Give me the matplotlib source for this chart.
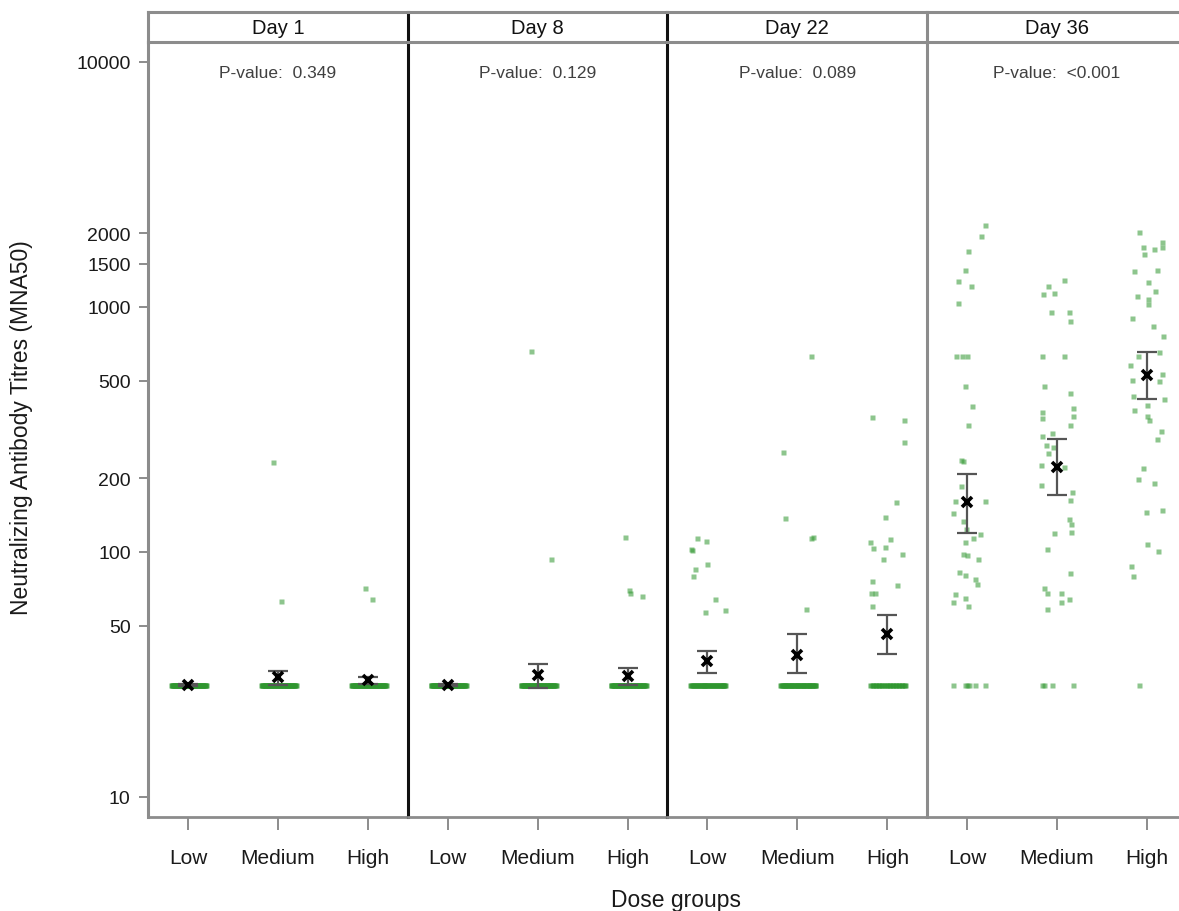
import numpy as np
import matplotlib
matplotlib.use("Agg")
import matplotlib.pyplot as plt
from matplotlib.ticker import FixedLocator, FixedFormatter, NullLocator

plt.rcParams["font.family"] = ["Liberation Sans", "DejaVu Sans"]

DAYS = ["Day 1", "Day 8", "Day 22", "Day 36"]
DOSES = ["Low", "Medium", "High"]
PVALUES = ["0.349", "0.129", "0.089", "<0.001"]
YTICKS = [10, 50, 100, 200, 500, 1000, 1500, 2000, 10000]

LLOQ = 28.5
# subjects sitting at the lower limit (drawn as a jittered band), per day x dose
N_AT_LLOQ = [[50, 48, 49], [50, 47, 46], [38, 42, 24], [0, 0, 0]]

# geometric mean titre and 95% CI, per day x dose
GMT = [[28.5, 30.8, 29.9], [28.5, 31.4, 31.2], [35.8, 38.0, 46.2], [160, 222, 527]]
CI_LO = [[28.3, 28.7, 28.9], [28.3, 27.8, 28.7], [32.0, 32.0, 38.4], [120, 171, 421]]
CI_HI = [[28.8, 32.6, 31.0], [28.8, 34.9, 33.5], [39.4, 46.2, 55.5], [209, 289, 653]]

# individual titres not in the LLOQ band, with their jitter
d1_medium = [233, 63]
d1_medium_dx = [-0.06, 0.03]
d1_high = [71, 64]
d1_high_dx = [-0.03, 0.04]

d8_medium = [660, 93.5]
d8_medium_dx = [-0.07, 0.15]
d8_high = [115, 70, 68, 66]
d8_high_dx = [-0.03, 0.01, 0.03, 0.16]

d22_low = [114, 111, 103, 102, 85, 89, 80, 64, 57, 58]
d22_low_dx = [-0.11, -0.02, -0.18, -0.17, -0.14, 0.0, -0.16, 0.09, -0.03, 0.20]
d22_medium = [632, 256, 137, 114, 115, 58.5]
d22_medium_dx = [0.15, -0.16, -0.14, 0.15, 0.17, 0.10]
d22_high = [355, 344, 280, 160, 139, 113, 109.5, 104, 105, 93.5, 98, 76, 68, 68, 73, 60]
d22_high_dx = [-0.17, 0.18, 0.19, 0.10, -0.03, 0.03, -0.19, -0.16, -0.03, -0.05,
               0.16, -0.17, -0.18, -0.14, 0.11, -0.17]

d36_low = [2162, 1945, 1687, 1419, 1273, 1222, 1038, 632, 632, 632, 474, 393, 330,
           238, 236, 186, 161, 144, 162, 134, 124, 114, 118, 110, 98, 97, 94, 83,
           80.5, 77.6, 74, 67.6, 64.6, 62.5, 60.4,
           28.5, 28.5, 28.5, 28.5, 28.5, 28.5]
d36_low_dx = [0.20, 0.15, 0.01, -0.02, -0.10, 0.04, -0.10, -0.12, -0.06, 0.0, -0.02,
              0.06, 0.01, -0.07, -0.05, -0.07, -0.13, -0.16, 0.20, -0.05, -0.01, 0.07,
              0.14, -0.02, -0.04, 0.0, 0.12, -0.09, -0.02, 0.09, 0.11, -0.13, -0.02,
              -0.16, 0.01,
              -0.16, -0.02, 0.0, 0.025, 0.09, 0.20]
d36_medium = [1292, 1213, 1129, 1140, 957, 951, 874, 632, 632, 476, 445, 387, 372,
              360, 353, 330, 305, 298, 273, 269, 253, 227, 222, 188, 175, 163, 136,
              130, 121, 119, 103, 81.7, 71, 68, 67.8, 64.4, 62.7, 58.3,
              28.5, 28.5, 28.5, 28.5]
d36_medium_dx = [0.08, -0.10, -0.16, -0.03, -0.07, 0.13, 0.14, -0.17, 0.08, -0.15,
                 0.14, 0.18, -0.17, 0.18, -0.17, 0.14, -0.06, -0.17, -0.12, -0.04,
                 -0.10, -0.18, 0.08, -0.18, 0.17, 0.14, 0.13, 0.16, 0.16, -0.03,
                 -0.11, 0.14, -0.15, -0.11, 0.04, 0.13, 0.04, -0.11,
                 -0.17, -0.14, -0.06, 0.18]
d36_high = [2018, 1751, 1726, 1837, 1751, 1644, 1403, 1416, 1268, 1112, 1078, 1024,
            1164, 899, 834, 759, 657, 632, 579, 533, 504, 499, 434, 399, 421, 380,
            360, 346, 311, 290, 221, 199, 192, 146, 149, 108, 101, 87.3, 79.4,
            28.5]
d36_high_dx = [-0.09, -0.04, 0.08, 0.17, 0.17, -0.03, -0.15, 0.11, 0.01, -0.11, 0.01,
               0.01, 0.09, -0.17, 0.07, 0.18, 0.13, -0.10, -0.19, 0.17, -0.17, 0.13,
               -0.16, 0.0, 0.19, -0.15, 0.0, 0.02, 0.15, 0.11, -0.05, -0.10, 0.08,
               -0.01, 0.17, 0.0, 0.12, -0.18, -0.16,
               -0.09]

POINTS = {
    (0, 1): (d1_medium, d1_medium_dx), (0, 2): (d1_high, d1_high_dx),
    (1, 1): (d8_medium, d8_medium_dx), (1, 2): (d8_high, d8_high_dx),
    (2, 0): (d22_low, d22_low_dx), (2, 1): (d22_medium, d22_medium_dx),
    (2, 2): (d22_high, d22_high_dx),
    (3, 0): (d36_low, d36_low_dx), (3, 1): (d36_medium, d36_medium_dx),
    (3, 2): (d36_high, d36_high_dx),
}

W, H = 1179, 912
fig = plt.figure(figsize=(W / 100, H / 100), dpi=100)


def fx(px):
    return px / W


def fy(py):
    return 1 - py / H


LEFT, PANEL_W = 148, 259.7
TOP, BOTTOM, HEAD_TOP = 43, 818, 13
GREEN = "#2f962f"
GRAY = "#8c8c8c"
sep_colors = [GRAY, "#111111", "#111111", "#8c8c8c"]

for i, day in enumerate(DAYS):
    x0 = LEFT + i * PANEL_W
    ax = fig.add_axes([fx(x0), fy(BOTTOM), fx(PANEL_W), (BOTTOM - TOP) / H])
    ax.set_yscale("log")
    ax.set_ylim(8.28, 12067)
    ax.set_xlim(-0.444, -0.444 + PANEL_W / 90)

    for j in range(3):
        n = N_AT_LLOQ[i][j]
        if n:
            ax.plot(j + np.linspace(-0.19, 0.20, n), [LLOQ] * n, "s", ms=3.6,
                    color=GREEN, alpha=0.75, mec="none", zorder=2)
        if (i, j) in POINTS:
            vals, dx = POINTS[(i, j)]
            ax.plot(j + np.array(dx), vals, "s", ms=3.6, color=GREEN,
                    alpha=0.55, mec="none", zorder=2)
        ax.errorbar(j, GMT[i][j],
                    yerr=[[GMT[i][j] - CI_LO[i][j]], [CI_HI[i][j] - GMT[i][j]]],
                    fmt="none", ecolor="#555555", elinewidth=1.6, capsize=7.5,
                    capthick=1.6, zorder=3)
        ax.plot(j, GMT[i][j], "x", ms=6.5, mew=2.6, color="black", zorder=4)

    ax.text(0.5, 0.961, f"P-value:  {PVALUES[i]}", transform=ax.transAxes,
            ha="center", va="center", fontsize=12.5, color="#404040")

    ax.set_xticks(range(3))
    ax.set_xticklabels(DOSES, fontsize=15, color="#1a1a1a")
    ax.tick_params(axis="x", direction="out", length=9.5, width=1.4,
                   color=GRAY, pad=13)
    ax.yaxis.set_minor_locator(NullLocator())
    if i == 0:
        ax.yaxis.set_major_locator(FixedLocator(YTICKS))
        ax.yaxis.set_major_formatter(FixedFormatter([str(t) for t in YTICKS]))
        ax.tick_params(axis="y", direction="out", length=6.5, width=1.4,
                       color=GRAY, labelsize=14, labelcolor="#1a1a1a", pad=6)
    else:
        ax.set_yticks([])

    for s in ("top", "right"):
        ax.spines[s].set_visible(False)
    ax.spines["bottom"].set_color(GRAY)
    ax.spines["bottom"].set_linewidth(2)
    ax.spines["left"].set_color(sep_colors[i])
    ax.spines["left"].set_linewidth(2.2)

    # strip header with the day label
    hx = fig.add_axes([fx(x0), fy(TOP), fx(PANEL_W), (TOP - HEAD_TOP) / H])
    hx.set_xticks([])
    hx.set_yticks([])
    hx.spines["right"].set_visible(False)
    for s in ("top", "bottom"):
        hx.spines[s].set_color(GRAY)
        hx.spines[s].set_linewidth(2.2)
    hx.spines["left"].set_color(sep_colors[i])
    hx.spines["left"].set_linewidth(2.2)
    hx.text(0.5, 0.5, day, ha="center", va="center", fontsize=14.5,
            color="#111111", transform=hx.transAxes)

fig.text(fx(22), fy(428), "Neutralizing Antibody Titres (MNA50)", rotation=90,
         ha="center", va="center", fontsize=16.5, color="#1a1a1a")
fig.text(fx(676), fy(901), "Dose groups", ha="center", va="center",
         fontsize=16.5, color="#1a1a1a")

fig.savefig("out.png", dpi=100)
